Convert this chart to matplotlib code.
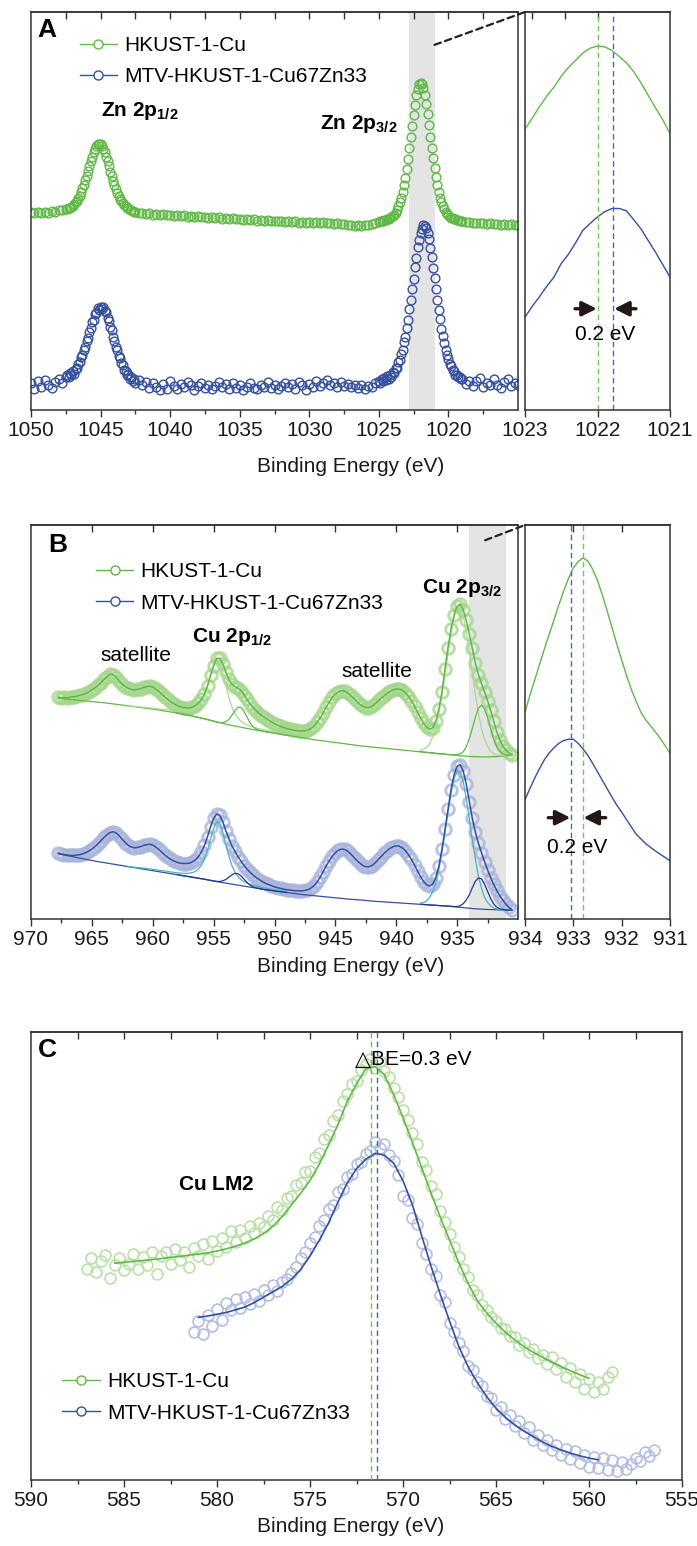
"""
XPS comparison of HKUST-1-Cu and MTV-HKUST-1-Cu67Zn33.
(A) Zn 2p, (B) Cu 2p with peak fits, (C) Cu LMM Auger, with zoomed insets.
"""

import numpy as np
import matplotlib
matplotlib.use("Agg")
import matplotlib.pyplot as plt
from matplotlib.lines import Line2D
from matplotlib.patches import ConnectionPatch
from matplotlib.ticker import FixedLocator, FuncFormatter, NullFormatter

plt.rcParams["font.family"] = ["Liberation Sans", "DejaVu Sans"]
plt.rcParams["mathtext.fontset"] = "custom"
plt.rcParams["mathtext.rm"] = "Liberation Sans"
plt.rcParams["mathtext.bf"] = "Liberation Sans:bold"
plt.rcParams["mathtext.it"] = "Liberation Sans:italic"
plt.rcParams["font.size"] = 15

# ─────────────────────────────────────────────
# DATA  (intensities in arbitrary, offset units)
# ─────────────────────────────────────────────
LABEL_CU = "HKUST-1-Cu"
LABEL_ZN = "MTV-HKUST-1-Cu67Zn33"

# Zn 2p survey: energy grid is finer across the two peaks
ZN_SEGMENTS = [(1050.0, 0.25, 10), (1047.5, 0.1, 50), (1042.5, 0.25, 70),
               (1025.0, 0.1, 60), (1019.0, 0.25, 17)]

zn_cu = [
    50.1, 49.8, 50.2, 49.9, 50.1, 50.0, 50.3, 50.2, 50.5, 50.6,
    50.8, 50.9, 51.0, 51.2, 51.4, 51.7, 52.0, 52.5, 52.9, 53.5,
    54.2, 55.0, 56.0, 56.9, 58.0, 59.1, 60.3, 61.6, 62.8, 63.9,
    65.0, 65.9, 66.6, 67.0, 67.2, 67.0, 66.6, 65.9, 65.0, 63.9,
    62.8, 61.5, 60.2, 59.0, 57.9, 56.8, 55.9, 54.9, 54.1, 53.4,
    52.8, 52.3, 51.8, 51.5, 51.2, 51.0, 50.7, 50.5, 50.3, 50.2,
    50.1, 49.9, 50.0, 49.7, 49.8, 49.5, 49.7, 49.4, 49.6, 49.3,
    49.5, 49.2, 49.4, 49.1, 49.3, 49.0, 49.2, 48.9, 49.1, 48.8,
    49.0, 48.7, 48.9, 48.6, 48.8, 48.5, 48.7, 48.4, 48.6, 48.3,
    48.5, 48.2, 48.4, 48.1, 48.3, 48.0, 48.2, 47.9, 48.1, 47.8,
    48.0, 47.8, 47.9, 47.7, 47.9, 47.6, 47.8, 47.5, 47.7, 47.5,
    47.7, 47.4, 47.6, 47.3, 47.6, 47.3, 47.5, 47.2, 47.4, 47.1,
    47.2, 46.9, 47.0, 46.7, 46.8, 46.6, 46.8, 46.9, 47.2, 47.5,
    47.7, 47.8, 47.9, 48.0, 48.1, 48.2, 48.3, 48.5, 48.6, 48.9,
    49.2, 49.5, 50.0, 50.7, 51.5, 52.5, 53.6, 55.1, 56.8, 58.7,
    60.9, 63.4, 66.0, 68.8, 71.6, 74.4, 76.9, 79.2, 80.9, 82.0,
    82.4, 82.1, 81.0, 79.3, 77.0, 74.5, 71.7, 68.9, 66.1, 63.5,
    61.0, 58.8, 56.9, 55.2, 53.7, 52.6, 51.6, 50.8, 50.1, 49.6,
    49.3, 49.0, 48.7, 48.6, 48.4, 48.3, 48.2, 48.1, 48.0, 47.9,
    47.9, 47.7, 47.6, 47.5, 47.5, 47.3, 47.4, 47.2, 47.3, 47.1,
    47.2, 47.0, 47.2, 47.0, 47.1, 46.9, 47.0,
]
zn_mtv = [
    7.4, 6.0, 7.9, 6.6, 8.2, 7.0, 6.3, 7.8, 8.6, 7.5,
    9.0, 9.6, 8.9, 10.1, 9.5, 10.4, 9.8, 10.9, 11.2, 12.3,
    12.6, 13.9, 14.4, 15.8, 16.5, 17.9, 18.7, 20.3, 21.1, 22.6,
    23.2, 24.6, 25.0, 26.1, 25.7, 26.4, 26.0, 26.5, 25.4, 25.1,
    23.8, 23.0, 21.4, 20.6, 18.9, 17.9, 16.4, 15.6, 14.1, 13.6,
    12.4, 12.0, 10.8, 10.6, 9.5, 9.7, 8.6, 9.0, 7.9, 8.4,
    7.6, 8.3, 6.9, 7.7, 6.2, 7.4, 6.6, 5.8, 7.2, 6.1,
    7.9, 6.8, 5.9, 7.3, 6.4, 7.7, 6.9, 5.7, 6.8, 7.6,
    6.3, 7.1, 5.9, 6.7, 7.8, 6.5, 7.2, 6.0, 7.4, 6.2,
    7.0, 5.8, 6.6, 7.5, 6.3, 5.9, 7.1, 6.6, 7.8, 6.2,
    7.0, 5.9, 6.8, 7.6, 6.4, 7.3, 6.1, 7.7, 6.9, 5.8,
    7.2, 6.5, 7.9, 6.8, 7.4, 8.2, 6.9, 7.6, 6.6, 7.8,
    6.8, 7.3, 6.4, 7.0, 6.2, 6.9, 6.0, 6.8, 6.5, 7.4,
    8.0, 7.5, 8.6, 7.9, 8.8, 8.3, 9.2, 8.6, 9.6, 9.1,
    10.2, 10.0, 11.2, 11.3, 12.6, 13.2, 14.6, 15.6, 17.6, 19.0,
    21.2, 23.2, 25.9, 28.1, 31.0, 33.4, 36.4, 38.7, 41.4, 43.2,
    45.0, 46.0, 46.9, 46.7, 46.2, 44.8, 43.4, 41.2, 38.9, 36.2,
    33.6, 30.8, 28.3, 25.7, 23.4, 21.0, 19.2, 17.4, 15.8, 14.4,
    13.5, 12.2, 11.6, 10.7, 10.4, 9.6, 9.5, 8.9, 9.1, 8.4,
    8.6, 7.3, 8.0, 6.7, 7.9, 8.8, 6.5, 7.6, 6.9, 8.4,
    7.1, 6.3, 7.7, 8.5, 6.8, 7.5, 7.0,
]

# Zn 2p3/2 close-up, 1023.0 -> 1021.0 eV in 0.1 eV steps
zn_zoom_cu = [70.8, 73.5, 76.4, 79.0, 81.3, 84.0, 86.2, 88.0, 89.8, 91.0, 91.5,
              91.3, 90.4, 88.9, 87.3, 85.1, 82.3, 79.2, 76.1, 73.1, 69.7]
zn_zoom_mtv = [23.9, 26.6, 29.0, 31.6, 33.9, 37.3, 39.6, 42.5, 45.6, 47.3, 48.9,
               50.2, 51.0, 51.0, 50.4, 48.2, 45.9, 43.0, 40.1, 37.0, 33.9]
ZN_PEAK_CU, ZN_PEAK_MTV = 1022.0, 1021.78

# Cu 2p, 967.75 -> 930.5 eV in 0.25 eV steps (measured points / envelope)
cu2p_cu = [
    57.2, 57.0, 57.1, 57.0, 57.2, 57.3, 57.4, 57.6, 57.8, 58.1,
    58.5, 59.0, 59.5, 60.1, 60.8, 61.6, 62.3, 62.9, 62.8, 62.1,
    61.2, 60.4, 59.8, 59.4, 59.1, 59.0, 59.1, 59.3, 59.6, 59.8,
    59.9, 59.7, 59.2, 58.6, 57.9, 57.2, 56.6, 56.0, 55.5, 55.1,
    54.8, 54.6, 54.5, 54.5, 54.7, 55.1, 55.7, 56.6, 58.0, 60.0,
    62.6, 65.0, 66.8, 66.9, 65.4, 63.4, 61.6, 60.4, 59.8, 59.4,
    58.8, 57.8, 56.6, 55.5, 54.6, 53.8, 53.1, 52.5, 52.0, 51.5,
    51.0, 50.6, 50.2, 49.9, 49.6, 49.4, 49.2, 49.0, 48.9, 48.8,
    48.8, 48.8, 49.0, 49.4, 50.0, 50.9, 52.0, 53.3, 54.7, 56.0,
    57.1, 57.9, 58.5, 58.8, 58.7, 58.3, 57.6, 56.9, 56.1, 55.4,
    54.9, 54.6, 54.6, 54.9, 55.5, 56.2, 56.9, 57.5, 58.1, 58.6,
    59.0, 59.2, 59.2, 58.9, 58.3, 57.4, 56.3, 54.9, 53.4, 52.0,
    50.7, 49.7, 49.2, 49.6, 51.2, 54.2, 58.5, 64.2, 69.5, 74.2,
    77.7, 79.8, 80.3, 78.9, 76.3, 72.8, 69.3, 65.6, 62.8, 60.6,
    58.5, 56.3, 53.9, 51.2, 48.6, 46.6, 45.0, 44.0, 43.3, 42.9,
]
cu2p_mtv = [
    18.4, 18.2, 18.0, 17.9, 17.8, 17.8, 17.9, 18.0, 18.2, 18.5,
    18.9, 19.4, 20.0, 20.7, 21.5, 22.3, 23.0, 23.5, 23.7, 23.4,
    22.7, 21.8, 21.0, 20.3, 19.9, 19.7, 19.8, 20.0, 20.3, 20.5,
    20.6, 20.4, 19.9, 19.3, 18.6, 17.9, 17.3, 16.8, 16.4, 16.1,
    15.9, 15.8, 15.8, 15.9, 16.2, 16.7, 17.5, 18.7, 20.3, 22.5,
    25.0, 27.0, 28.1, 27.8, 26.2, 24.0, 22.0, 20.2, 18.8, 17.5,
    16.4, 15.3, 14.4, 13.6, 12.9, 12.3, 11.8, 11.3, 10.9, 10.6,
    10.3, 10.0, 9.8, 9.6, 9.4, 9.3, 9.2, 9.1, 9.0, 9.0,
    9.0, 9.1, 9.3, 9.7, 10.3, 11.2, 12.4, 13.8, 15.2, 16.5,
    17.6, 18.5, 19.1, 19.4, 19.3, 18.9, 18.2, 17.4, 16.6, 15.9,
    15.3, 15.0, 15.0, 15.3, 15.9, 16.7, 17.5, 18.3, 19.0, 19.6,
    20.0, 20.2, 20.1, 19.7, 19.0, 18.0, 16.8, 15.4, 13.9, 12.5,
    11.3, 10.5, 10.2, 10.7, 12.3, 15.2, 19.3, 24.3, 29.4, 34.2,
    37.9, 40.0, 40.4, 38.8, 35.6, 31.2, 27.0, 23.6, 20.8, 18.5,
    16.3, 14.2, 12.3, 10.6, 9.1, 7.8, 6.7, 5.7, 4.9, 4.3,
]

# Shirley backgrounds, 967.75 -> 930.75 eV in 1 eV steps
cu2p_bg_cu = [
    56.9, 56.6, 56.3, 56.0, 55.7, 55.3, 54.9, 54.5, 54.1, 53.6,
    53.1, 52.5, 51.8, 51.0, 50.3, 49.7, 49.1, 48.6, 48.1, 47.6,
    47.1, 46.6, 46.2, 45.8, 45.4, 45.0, 44.7, 44.4, 44.1, 43.8,
    43.5, 43.2, 42.9, 42.6, 42.4, 42.3, 42.4, 42.7,
]
cu2p_bg_mtv = [
    18.2, 17.6, 17.0, 16.4, 15.9, 15.4, 14.9, 14.4, 13.9, 13.4,
    12.9, 12.4, 11.9, 11.3, 10.8, 10.3, 9.8, 9.3, 8.9, 8.5,
    8.1, 7.8, 7.5, 7.2, 6.9, 6.7, 6.4, 6.2, 6.0, 5.8,
    5.6, 5.4, 5.2, 4.9, 4.6, 4.4, 4.3, 4.2,
]

# fitted components (on background), Cu 2p3/2 window 938.0 -> 930.5 eV
p32_main_cu = [43.9, 44.2, 44.7, 45.6, 47.3, 49.7, 53.1, 57.5, 62.6, 68.0,
               73.0, 77.0, 79.3, 79.4, 77.4, 73.6, 68.6, 63.0, 57.8, 53.2,
               49.4, 46.7, 44.9, 43.8, 43.1, 42.8, 42.7, 42.7, 42.7, 42.8, 42.8]
p32_sh_cu = [43.6, 43.5, 43.45, 43.4, 43.3, 43.2, 43.1, 43.1, 43.0, 42.9,
             42.9, 42.8, 42.9, 43.1, 43.6, 44.8, 46.85, 49.4, 52.2, 54.4,
             55.2, 54.3, 52.15, 49.4, 46.75, 44.8, 43.7, 43.1, 42.8, 42.75, 42.8]
p32_main_mtv = [5.9, 6.1, 6.5, 7.4, 8.8, 11.1, 14.2, 18.4, 23.3, 28.5,
                33.2, 36.9, 38.8, 38.5, 36.2, 32.0, 26.9, 21.6, 16.8, 12.7,
                9.6, 7.4, 6.1, 5.3, 4.75, 4.5, 4.35, 4.3, 4.25, 4.2, 4.2]
p32_sh_mtv = [5.65, 5.6, 5.55, 5.5, 5.45, 5.4, 5.35, 5.3, 5.25, 5.2,
              5.15, 5.1, 5.1, 5.3, 5.8, 6.7, 8.0, 9.8, 11.4, 12.2,
              12.0, 10.7, 8.9, 7.1, 5.75, 4.95, 4.55, 4.4, 4.25, 4.2, 4.2]

# fitted components, Cu 2p1/2: main peaks 962.0 -> 949.0 eV, shoulders 958.0 -> 949.0 eV
p12_main_cu = [55.0, 54.93, 54.86, 54.79, 54.72, 54.65, 54.58, 54.5, 54.42, 54.34,
               54.26, 54.17, 54.08, 53.99, 53.89, 53.77,
               53.75, 53.67, 53.61, 53.6, 53.65, 53.8, 54.1, 54.75, 55.95, 57.6,
               60.1, 62.9, 65.4, 66.75, 65.9, 63.25, 60.1, 57.2, 54.75, 53.0,
               51.95, 51.2, 50.65, 50.27, 49.96, 49.72, 49.5, 49.34, 49.14, 49.0,
               48.86, 48.68, 48.55, 48.38, 48.26, 48.09, 47.97]
p12_sh_cu = [53.25, 53.1, 52.95, 52.8, 52.65, 52.5, 52.3, 52.15, 51.95, 51.8,
             51.6, 51.4, 51.2, 51.0, 50.86, 50.85, 51.07, 51.63, 52.65, 53.85,
             54.67, 54.62, 53.64, 52.17, 50.78, 49.79, 49.2, 48.93, 48.72, 48.6,
             48.5, 48.35, 48.25, 48.1, 48.0, 47.85, 47.75]
p12_main_mtv = [15.03, 14.95, 14.88, 14.8, 14.73, 14.65, 14.56, 14.45, 14.35, 14.24,
                14.14, 14.03, 13.93, 13.82, 13.71, 13.59,
                13.5, 13.41, 13.35, 13.34, 13.4, 13.55, 13.83, 14.4, 15.38, 17.0,
                19.25, 21.9, 24.5, 26.15, 25.85, 23.65, 20.65, 17.7, 15.3, 13.7,
                12.58, 11.8, 11.28, 10.92, 10.62, 10.4, 10.16, 10.0, 9.8, 9.66,
                9.53, 9.4, 9.29, 9.16, 9.04, 8.93, 8.81]
p12_sh_mtv = [13.05, 12.9, 12.75, 12.65, 12.5, 12.4, 12.25, 12.15, 12.0, 11.9,
              11.75, 11.6, 11.47, 11.36, 11.33, 11.5, 11.82, 12.4, 12.96, 13.36,
              13.26, 12.74, 11.89, 11.09, 10.42, 10.02, 9.73, 9.57, 9.4, 9.3,
              9.2, 9.1, 9.0, 8.9, 8.8, 8.7, 8.6]

# Cu 2p3/2 close-up, 934.0 -> 931.0 eV in 0.1 eV steps
cu_zoom_cu = [53.5, 57.6, 61.4, 65.3, 69.1, 72.8, 76.4, 80.1, 83.6, 86.7, 89.3,
              90.9, 91.8, 91.0, 89.0, 86.2, 82.6, 78.6, 74.5, 70.3, 66.4,
              62.6, 59.1, 56.1, 53.4, 51.5, 50.0, 48.5, 46.9, 45.1, 43.2]
cu_zoom_mtv = [31.7, 34.4, 37.0, 39.4, 41.6, 43.3, 44.6, 45.7, 46.4, 46.7, 46.7,
               45.7, 44.3, 42.7, 40.7, 38.6, 36.5, 34.4, 32.3, 30.3, 28.6,
               26.7, 24.9, 23.1, 21.9, 20.7, 19.8, 18.9, 18.1, 17.3, 16.5]
CU_PEAK_CU, CU_PEAK_MTV = 932.8, 933.05

# Cu LMM: measured points (0.25 eV steps) and fits (0.5 eV steps)
lmm_cu = [
    47.0, 49.5, 46.5, 48.8, 50.2, 45.2, 47.9, 49.6, 46.8, 48.3,
    50.4, 47.2, 49.8, 48.1, 51.0, 46.0, 49.9, 50.8, 48.2, 51.5,
    49.0, 50.9, 47.6, 51.8, 50.1, 52.6, 49.4, 53.4, 51.2, 54.0,
    52.1, 55.6, 53.2, 55.9, 54.1, 56.8, 55.2, 57.3, 56.4, 58.9,
    58.0, 60.9, 60.3, 63.0, 63.4, 65.8, 66.2, 68.8, 69.0, 72.0,
    73.1, 76.2, 77.0, 80.1, 81.5, 84.6, 86.2, 88.3, 89.0, 91.6,
    92.8, 93.9, 92.0, 93.6, 91.2, 90.0, 87.6, 85.4, 82.5, 80.3,
    77.4, 74.9, 71.0, 69.2, 65.6, 63.8, 60.1, 57.6, 54.9, 52.0,
    49.8, 47.0, 45.3, 42.5, 41.2, 39.0, 37.9, 36.4, 35.6, 34.0,
    33.8, 32.1, 31.9, 30.2, 30.5, 28.6, 29.3, 27.2, 28.0, 26.0,
    27.4, 24.7, 26.1, 22.9, 25.0, 21.8, 23.6, 20.4, 22.5, 19.6,
    21.8, 20.3, 23.0, 24.2,
]
lmm_mtv = [
    33.0, 35.4, 32.6, 36.8, 34.4, 38.2, 35.7, 39.6, 37.9, 40.3,
    38.4, 40.8, 39.2, 41.6, 40.0, 42.4, 41.3, 43.6, 42.2, 44.1,
    44.9, 46.3, 47.5, 49.6, 50.8, 52.9, 54.2, 56.8, 58.1, 60.5,
    61.4, 64.2, 65.0, 67.6, 68.3, 70.5, 71.0, 72.8, 73.4, 75.4,
    74.1, 75.0, 72.6, 71.2, 68.0, 63.5, 62.6, 58.4, 57.2, 53.0,
    50.4, 47.2, 45.6, 41.4, 39.8, 35.1, 33.0, 30.6, 28.9, 25.4,
    24.6, 21.9, 21.0, 18.8, 18.2, 15.6, 16.4, 13.7, 14.6, 12.1,
    13.2, 10.4, 11.8, 9.0, 10.1, 7.8, 9.0, 6.6, 7.9, 5.5,
    7.0, 4.6, 6.4, 3.9, 5.6, 3.0, 5.1, 2.6, 4.8, 2.2,
    4.4, 2.0, 4.0, 2.5, 3.6, 5.0, 4.2, 6.2, 5.4, 6.8,
]
lmm_fit_cu = [
    48.4, 48.6, 48.8, 49.0, 49.2, 49.4, 49.7, 49.9, 50.2, 50.4,
    50.7, 51.1, 51.6, 52.2, 52.9, 53.8, 55.0, 56.6, 58.8, 61.4,
    64.0, 66.9, 70.5, 74.8, 79.3, 84.5, 88.4, 91.8, 92.3, 90.5,
    86.0, 80.9, 75.4, 69.8, 64.1, 58.7, 53.6, 48.5, 43.9, 40.0,
    37.3, 35.0, 33.0, 31.3, 29.8, 28.5, 27.4, 26.3, 25.3, 24.4,
    23.5, 22.7,
]
lmm_fit_mtv = [
    36.3, 36.6, 37.0, 37.4, 38.0, 38.6, 39.6, 40.8, 42.0, 43.2,
    44.8, 47.0, 50.0, 53.5, 57.4, 62.0, 66.3, 69.5, 71.6, 72.9,
    72.5, 70.7, 66.8, 61.5, 54.6, 47.8, 41.5, 35.5, 29.8, 25.3,
    21.7, 18.6, 16.0, 14.0, 12.3, 10.9, 9.7, 8.5, 7.5, 6.7,
    6.0, 5.4, 4.9, 4.5,
]
LMM_PEAK_CU, LMM_PEAK_MTV = 571.7, 571.4


def energies(start, step, values):
    return start - step * np.arange(len(values))


zn_x = np.concatenate([s - st * np.arange(n) for s, st, n in ZN_SEGMENTS])

# ─────────────────────────────────────────────
# COLOURS
# ─────────────────────────────────────────────
GREEN = "#5fb946"
BLUE = "#35509f"
GREEN_PT = "#a5d68c"
BLUE_PT = "#a8b4dc"
GREEN_FAINT = "#b9e1a7"
BLUE_FAINT = "#b2bee3"
GREEN_COMP = "#a9d994"
CYAN = "#47b4c4"
NAVY = "#25398a"
BAND = "#e4e4e4"
AXIS = "#333333"
INK = "#1a1a1a"

# ─────────────────────────────────────────────
# LAYOUT
# ─────────────────────────────────────────────
W, H = 697, 1546
fig = plt.figure(figsize=(W / 100, H / 100), dpi=100)


def px_box(x0, y0, x1, y1):
    return [x0 / W, 1 - y1 / H, (x1 - x0) / W, (y1 - y0) / H]


def setup(ax, xlim, ylim, major, minor=(), top=()):
    ax.set_xlim(*xlim)
    ax.set_ylim(*ylim)
    ax.set_yticks([])
    ax.xaxis.set_major_locator(FixedLocator(major))
    ax.xaxis.set_minor_locator(FixedLocator(minor))
    ax.xaxis.set_major_formatter(FuncFormatter(lambda v, p: f"{v:g}"))
    ax.tick_params(axis="x", which="major", direction="out", length=5, width=1.0,
                   color=AXIS, labelcolor=INK, labelsize=15, pad=3)
    ax.tick_params(axis="x", which="minor", direction="out", length=3, width=1.0, color=AXIS)
    for sp in ax.spines.values():
        sp.set_linewidth(1.1)
        sp.set_color(AXIS)
    sec = ax.secondary_xaxis("top")
    sec.xaxis.set_major_locator(FixedLocator(top))
    sec.xaxis.set_major_formatter(NullFormatter())
    sec.tick_params(axis="x", direction="in", length=5, width=1.0, color=AXIS)
    sec.spines["top"].set_linewidth(1.1)
    sec.spines["top"].set_color(AXIS)


def key(color):
    return Line2D([], [], color=color, lw=1.0, marker="o", ms=6.5, mfc="white", mec=color, mew=1.0)


def legend(ax, x, y):
    ax.legend([key(GREEN), key(BLUE)], [LABEL_CU, LABEL_ZN], loc="upper left",
              bbox_to_anchor=(x, y), frameon=False, fontsize=15, handlelength=1.8,
              handletextpad=0.35, labelspacing=0.58, borderpad=0, borderaxespad=0)


def shift_arrows(ax, left_line, right_line, y, tail):
    # x axes run from high to low energy, so "left" is the larger value
    for tip, start in ((left_line + 0.01, left_line + tail), (right_line - 0.01, right_line - tail)):
        ax.annotate("", xy=(tip, y), xytext=(start, y),
                    arrowprops=dict(arrowstyle="-|>", color="#231815", lw=2.4,
                                    mutation_scale=22, shrinkA=0, shrinkB=0))


ax_a = fig.add_axes(px_box(31, 12, 518, 410))
ax_ai = fig.add_axes(px_box(525, 12, 670, 410))
ax_b = fig.add_axes(px_box(31, 525, 518, 919))
ax_bi = fig.add_axes(px_box(525, 525, 670, 919))
ax_c = fig.add_axes(px_box(31, 1032, 682, 1480))

# ─────────────────────────────────────────────
# A  Zn 2p
# ─────────────────────────────────────────────
setup(ax_a, (1050, 1015), (0.75, 100), np.arange(1050, 1019, -5),
      np.arange(1047.5, 1016, -5), np.arange(1047.5, 1016, -2.5))
ax_a.axvspan(1022.8, 1021.0, color=BAND, lw=0, zorder=0)
n = min(len(zn_x), len(zn_cu), len(zn_mtv))
ax_a.plot(zn_x[:n], zn_cu[:n], ls="none", marker="o", ms=6.3, mfc="none", mec=GREEN, mew=1.0)
ax_a.plot(zn_x[:n], zn_mtv[:n], ls="none", marker="o", ms=6.3, mfc="none", mec=BLUE, mew=1.0)
ax_a.text(1045.0, 75.4, r"$\mathbf{Zn\ 2p_{1/2}}$", fontsize=15, ha="left", va="center")
ax_a.text(1029.2, 72.1, r"$\mathbf{Zn\ 2p_{3/2}}$", fontsize=15, ha="left", va="center")
legend(ax_a, 0.1, 0.94)

setup(ax_ai, (1023, 1021), (0.75, 100), [1023, 1022, 1021], top=[1022.9, 1022.45, 1022.0])
ax_ai.plot(energies(1023.0, 0.1, zn_zoom_cu), zn_zoom_cu, color=GREEN, lw=1.0)
ax_ai.plot(energies(1023.0, 0.1, zn_zoom_mtv), zn_zoom_mtv, color=BLUE, lw=1.0)
ax_ai.axvline(ZN_PEAK_CU, color="#79c35f", lw=1.0, ls=(0, (4, 2.5)))
ax_ai.axvline(ZN_PEAK_MTV, color="#4a66b6", lw=1.0, ls=(0, (4, 2.5)))
shift_arrows(ax_ai, ZN_PEAK_CU, ZN_PEAK_MTV, 26.0, 0.31)
ax_ai.text((ZN_PEAK_CU + ZN_PEAK_MTV) / 2, 19.7, f"{ZN_PEAK_CU - ZN_PEAK_MTV:.1f} eV",
           fontsize=15, ha="center", va="center")
fig.add_artist(ConnectionPatch(xyA=(1021.0, 91.8), coordsA=ax_a.transData,
                               xyB=(0, 1), coordsB=ax_ai.transAxes,
                               color="#222222", lw=1.6, ls=(0, (3, 2))))
fig.text(350.5 / W, 1 - 466 / H, "Binding Energy (eV)", fontsize=15, ha="center", va="center", color=INK)
fig.text(46.5 / W, 1 - 30 / H, "A", fontsize=19, fontweight="bold", ha="center", va="center")

# ─────────────────────────────────────────────
# B  Cu 2p
# ─────────────────────────────────────────────
setup(ax_b, (970, 930), (2, 100), np.arange(970, 934, -5), np.arange(967.5, 931, -5),
      np.arange(965, 934, -5))
ax_b.axvspan(934.0, 931.0, color=BAND, lw=0, zorder=0)
for y, pt, line, bg, m32, s32, m12, s12, main_col, sh_col in (
        (cu2p_cu, GREEN_PT, GREEN, cu2p_bg_cu, p32_main_cu, p32_sh_cu,
         p12_main_cu, p12_sh_cu, GREEN_COMP, GREEN),
        (cu2p_mtv, BLUE_PT, BLUE, cu2p_bg_mtv, p32_main_mtv, p32_sh_mtv,
         p12_main_mtv, p12_sh_mtv, CYAN, NAVY)):
    x = energies(967.75, 0.25, y)
    ax_b.plot(x, y, ls="none", marker="o", ms=8.3, mfc="none", mec=pt, mew=2.1, alpha=0.8, zorder=2)
    ax_b.plot(energies(967.75, 1.0, bg), bg, color=line, lw=0.9, zorder=3)
    ax_b.plot(energies(938.0, 0.25, m32), m32, color=main_col, lw=0.9, zorder=3)
    ax_b.plot(energies(962.0, 0.25, m12), m12, color=main_col, lw=0.9, zorder=3)
    ax_b.plot(energies(938.0, 0.25, s32), s32, color=sh_col, lw=0.9, zorder=3)
    ax_b.plot(energies(958.0, 0.25, s12), s12, color=sh_col, lw=0.9, zorder=3)
    ax_b.plot(x, y, color=line, lw=1.1, zorder=4)

ax_b.text(964.3, 67.5, "satellite", fontsize=15, ha="left", va="center")
ax_b.text(944.5, 63.6, "satellite", fontsize=15, ha="left", va="center")
ax_b.text(956.75, 72.1, r"$\mathbf{Cu\ 2p_{1/2}}$", fontsize=15, ha="left", va="center")
ax_b.text(937.85, 84.4, r"$\mathbf{Cu\ 2p_{3/2}}$", fontsize=15, ha="left", va="center")
legend(ax_b, 0.133, 0.905)

setup(ax_bi, (934, 931), (2, 100), [934, 933, 932, 931], top=[933, 932])
ax_bi.plot(energies(934.0, 0.1, cu_zoom_cu), cu_zoom_cu, color=GREEN, lw=1.0)
ax_bi.plot(energies(934.0, 0.1, cu_zoom_mtv), cu_zoom_mtv, color=BLUE, lw=1.0)
ax_bi.axvline(CU_PEAK_MTV, color="#4a66b6", lw=1.0, ls=(0, (4, 2.5)))
ax_bi.axvline(CU_PEAK_CU, color="#79c35f", lw=1.0, ls=(0, (4, 2.5)))
shift_arrows(ax_bi, CU_PEAK_MTV, CU_PEAK_CU, 27.2, 0.47)
ax_bi.text((CU_PEAK_CU + CU_PEAK_MTV) / 2, 19.8, f"{CU_PEAK_MTV - CU_PEAK_CU:.1f} eV",
           fontsize=15, ha="center", va="center")
fig.add_artist(ConnectionPatch(xyA=(932.7, 96.2), coordsA=ax_b.transData,
                               xyB=(0, 1), coordsB=ax_bi.transAxes,
                               color="#222222", lw=1.6, ls=(0, (3, 2))))
fig.text(350.5 / W, 1 - 967 / H, "Binding Energy (eV)", fontsize=15, ha="center", va="center", color=INK)
fig.text(58 / W, 1 - 545 / H, "B", fontsize=19, fontweight="bold", ha="center", va="center")

# ─────────────────────────────────────────────
# C  Cu LMM
# ─────────────────────────────────────────────
setup(ax_c, (590, 555), (0, 100), np.arange(590, 554, -5), np.arange(587.5, 556, -5),
      np.arange(587.5, 556, -2.5))
ax_c.plot(energies(587.0, 0.25, lmm_cu), lmm_cu, ls="none", marker="o", ms=7.8,
          mfc="none", mec=GREEN_FAINT, mew=1.2, zorder=2)
ax_c.plot(energies(581.25, 0.25, lmm_mtv), lmm_mtv, ls="none", marker="o", ms=7.8,
          mfc="none", mec=BLUE_FAINT, mew=1.2, zorder=2)
ax_c.plot(energies(585.5, 0.5, lmm_fit_cu), lmm_fit_cu, color=GREEN, lw=1.2, zorder=3)
ax_c.plot(energies(581.0, 0.5, lmm_fit_mtv), lmm_fit_mtv, color=BLUE, lw=1.2, zorder=3)
ax_c.axvline(LMM_PEAK_CU, color="#6fbf52", lw=1.0, ls=(0, (4, 2.5)), zorder=4)
ax_c.axvline(LMM_PEAK_MTV, color="#4a63ad", lw=1.0, ls=(0, (4, 2.5)), zorder=4)
ax_c.text(572.6, 93.8, f"\u25b3BE={LMM_PEAK_CU - LMM_PEAK_MTV:.1f} eV", fontsize=15,
          ha="left", va="center", zorder=5)
ax_c.text(582.1, 66.0, r"$\mathbf{Cu\ LM2}$", fontsize=15, ha="left", va="center")
legend(ax_c, 0.048, 0.24)
fig.text(350.5 / W, 1 - 1527 / H, "Binding Energy (eV)", fontsize=15, ha="center", va="center", color=INK)
fig.text(47 / W, 1 - 1050 / H, "C", fontsize=19, fontweight="bold", ha="center", va="center")

fig.savefig("out.png", dpi=100)
